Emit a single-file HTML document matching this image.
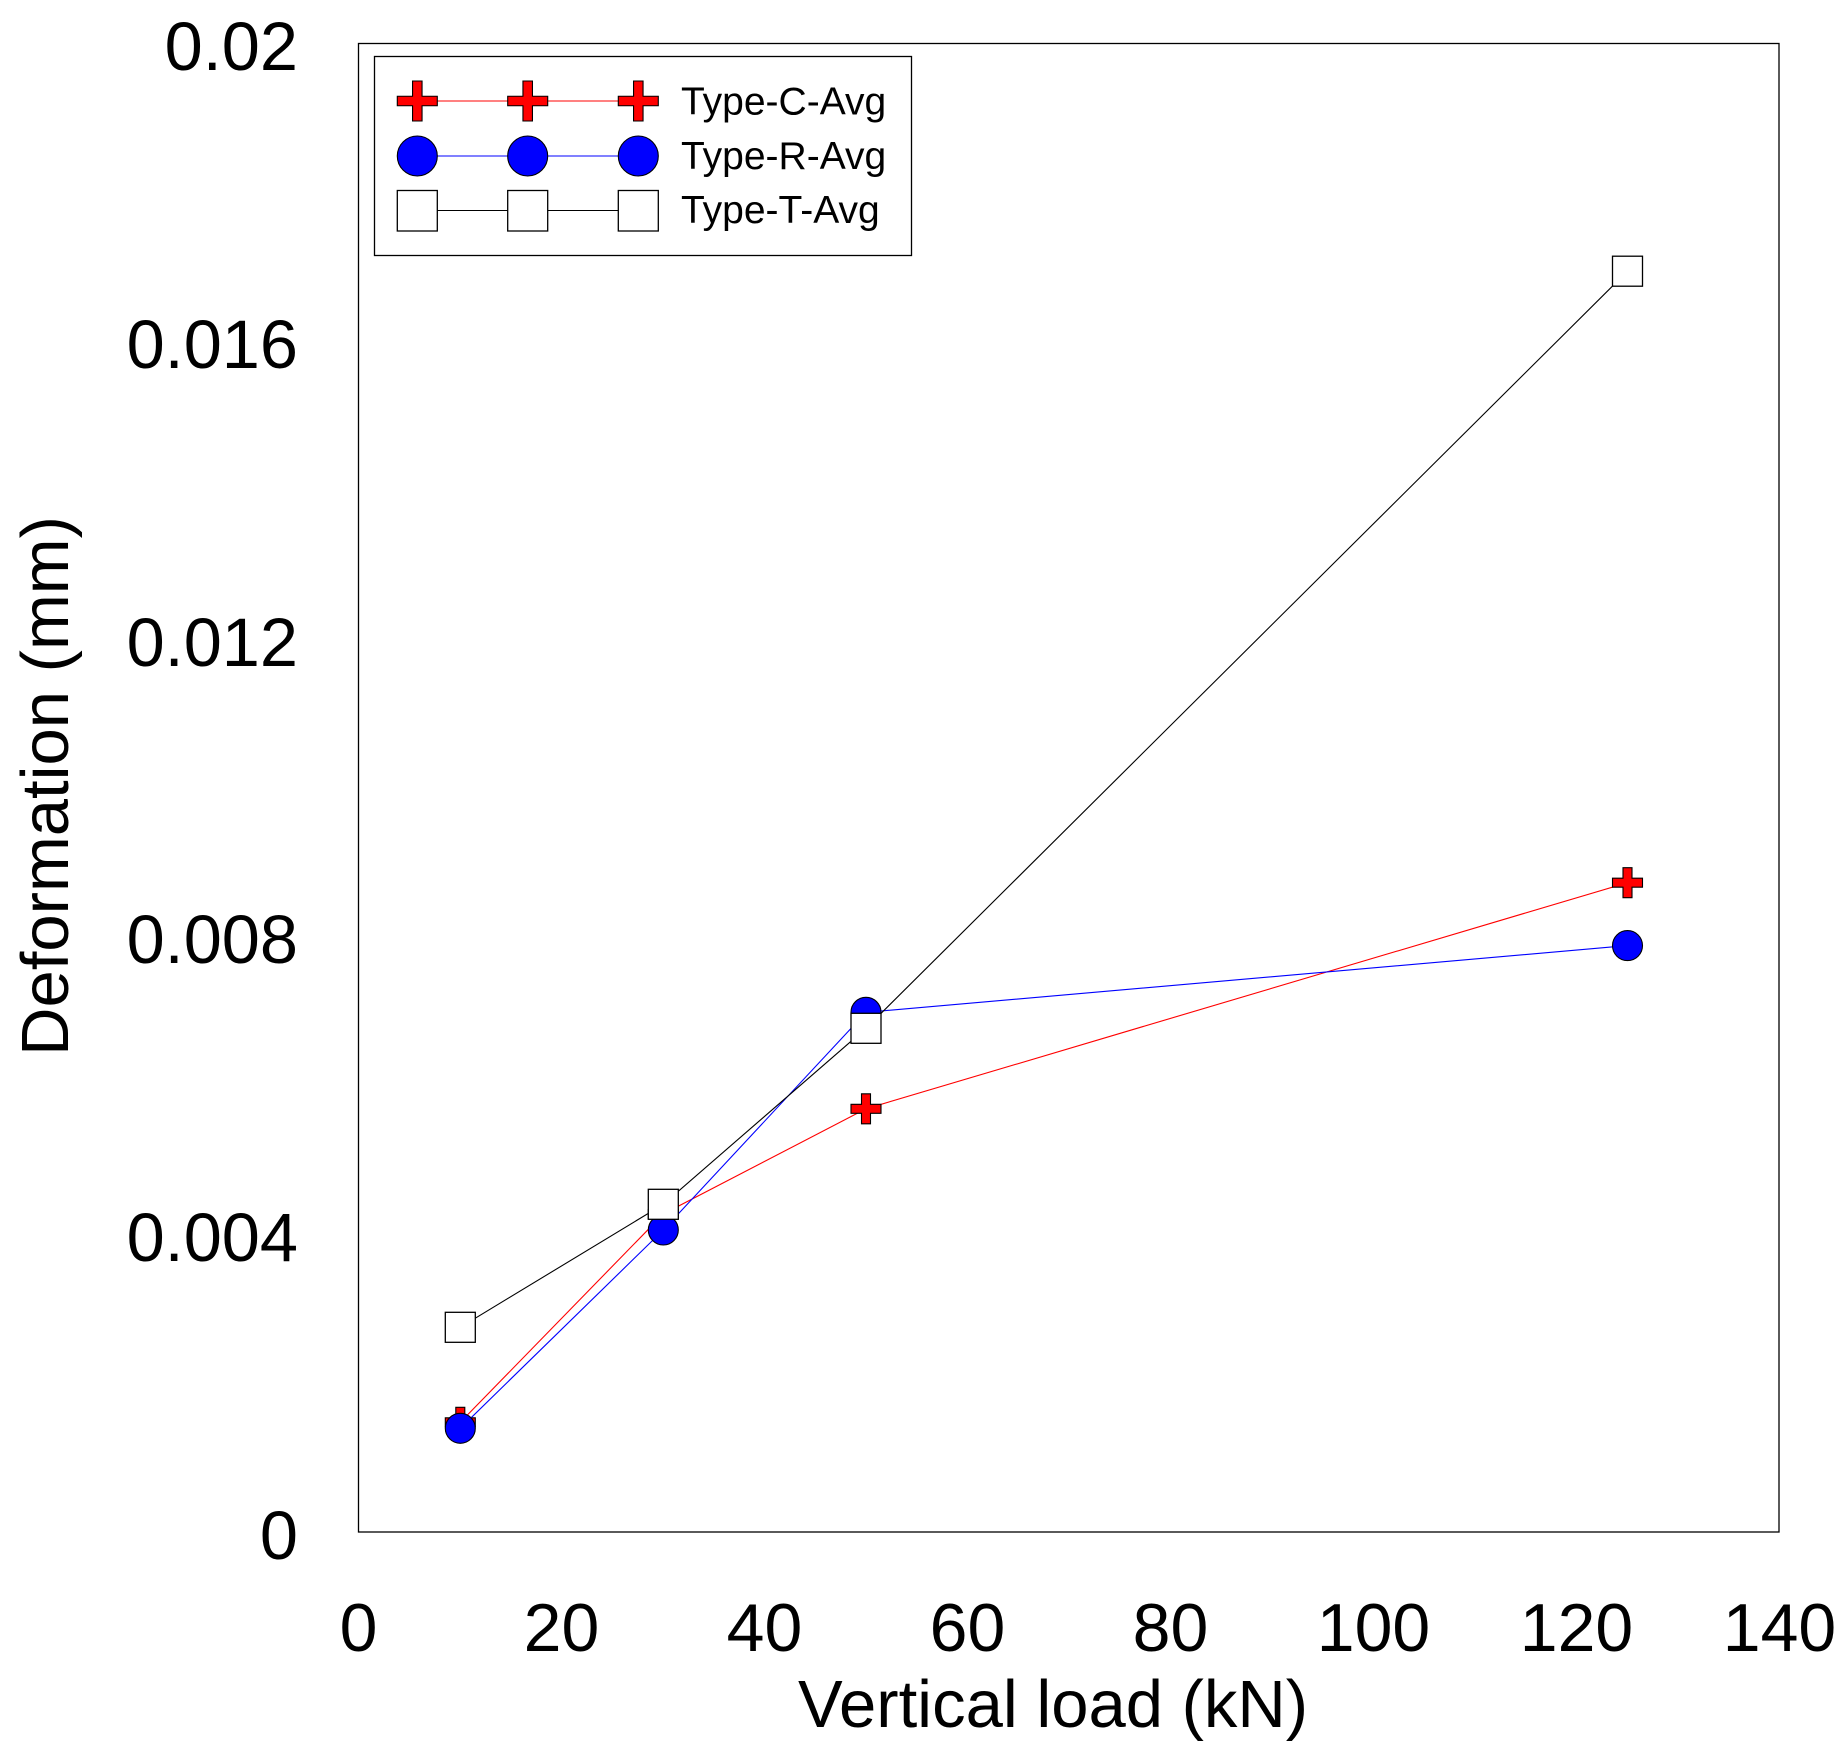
<!DOCTYPE html>
<html>
<head>
<meta charset="utf-8">
<style>
  html, body { margin: 0; padding: 0; background: #fff; }
  svg { display: block; }
  text { font-family: "Liberation Sans", Arial, sans-serif; fill: #000; }
</style>
</head>
<body>
<svg width="1844" height="1754" viewBox="0 0 1844 1754" xmlns="http://www.w3.org/2000/svg">
  <rect x="0" y="0" width="1844" height="1754" fill="#fff"/>

  <!-- plot frame -->
  <rect x="358.5" y="43.5" width="1420.5" height="1488.5" fill="none" stroke="#000" stroke-width="1.3"/>

  <!-- Y tick labels -->
  <g font-size="68.5" text-anchor="end">
    <text x="298" y="70">0.02</text>
    <text x="298" y="368">0.016</text>
    <text x="298" y="666">0.012</text>
    <text x="298" y="963">0.008</text>
    <text x="298" y="1261">0.004</text>
    <text x="298" y="1559">0</text>
  </g>

  <!-- X tick labels -->
  <g font-size="68" text-anchor="middle">
    <text x="358.5" y="1651">0</text>
    <text x="561.5" y="1651">20</text>
    <text x="764.5" y="1651">40</text>
    <text x="967.5" y="1651">60</text>
    <text x="1170.5" y="1651">80</text>
    <text x="1373.5" y="1651">100</text>
    <text x="1576.5" y="1651">120</text>
    <text x="1779.5" y="1651">140</text>
  </g>

  <!-- Axis titles -->
  <text x="798" y="1727" font-size="67">Vertical load (kN)</text>
  <text transform="translate(68,786) rotate(-90)" font-size="67" text-anchor="middle">Deformation (mm)</text>

  <!-- Series C (red crosses) -->
  <polyline points="460.3,1422.3 663.3,1214 866,1108.8 1627.5,882.7" fill="none" stroke="#ff0000" stroke-width="1.1"/>
  <g fill="#ff0000" stroke="#000" stroke-width="1.1">
    <path transform="translate(460.3,1422.3)" d="M-4.5,-15 H4.5 V-4.5 H15 V4.5 H4.5 V15 H-4.5 V4.5 H-15 V-4.5 H-4.5 Z"/>
    <path transform="translate(663.3,1214)" d="M-4.5,-15 H4.5 V-4.5 H15 V4.5 H4.5 V15 H-4.5 V4.5 H-15 V-4.5 H-4.5 Z"/>
    <path transform="translate(866,1108.8)" d="M-4.5,-15 H4.5 V-4.5 H15 V4.5 H4.5 V15 H-4.5 V4.5 H-15 V-4.5 H-4.5 Z"/>
    <path transform="translate(1627.5,882.7)" d="M-4.5,-15 H4.5 V-4.5 H15 V4.5 H4.5 V15 H-4.5 V4.5 H-15 V-4.5 H-4.5 Z"/>
  </g>

  <!-- Series R (blue circles) -->
  <polyline points="460.3,1428.3 663.3,1230 866,1012.3 1627.5,945.6" fill="none" stroke="#0000ff" stroke-width="1.1"/>
  <g fill="#0000ff" stroke="#000" stroke-width="1.1">
    <circle cx="460.3" cy="1428.3" r="15"/>
    <circle cx="663.3" cy="1230" r="15"/>
    <circle cx="866" cy="1012.3" r="15"/>
    <circle cx="1627.5" cy="945.6" r="15"/>
  </g>

  <!-- Series T (white squares) -->
  <polyline points="460.3,1327.3 663.3,1204.3 866,1028.3 1627.5,271.2" fill="none" stroke="#000" stroke-width="1.1"/>
  <g fill="#fff" stroke="#000" stroke-width="1.3">
    <rect x="445.3" y="1312.3" width="30" height="30"/>
    <rect x="648.3" y="1189.3" width="30" height="30"/>
    <rect x="851" y="1013.3" width="30" height="30"/>
    <rect x="1612.5" y="256.2" width="30" height="30"/>
  </g>

  <!-- Legend -->
  <rect x="374.5" y="56.5" width="537" height="199" fill="#fff" stroke="#000" stroke-width="1.3"/>
  <line x1="417.3" y1="101" x2="638.3" y2="101" stroke="#ff0000" stroke-width="1.1"/>
  <line x1="417.3" y1="156" x2="638.3" y2="156" stroke="#0000ff" stroke-width="1.1"/>
  <line x1="417.3" y1="210.5" x2="638.3" y2="210.5" stroke="#000" stroke-width="1.1"/>
  <g fill="#ff0000" stroke="#000" stroke-width="1.1">
    <path transform="translate(417.3,101)" d="M-4.75,-20 H4.75 V-4.75 H20 V4.75 H4.75 V20 H-4.75 V4.75 H-20 V-4.75 H-4.75 Z"/>
    <path transform="translate(527.7,101)" d="M-4.75,-20 H4.75 V-4.75 H20 V4.75 H4.75 V20 H-4.75 V4.75 H-20 V-4.75 H-4.75 Z"/>
    <path transform="translate(638.3,101)" d="M-4.75,-20 H4.75 V-4.75 H20 V4.75 H4.75 V20 H-4.75 V4.75 H-20 V-4.75 H-4.75 Z"/>
  </g>
  <g fill="#0000ff" stroke="#000" stroke-width="1.1">
    <circle cx="417.3" cy="156" r="20"/>
    <circle cx="527.7" cy="156" r="20"/>
    <circle cx="638.3" cy="156" r="20"/>
  </g>
  <g fill="#fff" stroke="#000" stroke-width="1.3">
    <rect x="397.3" y="190.5" width="40" height="40.5"/>
    <rect x="507.7" y="190.5" width="40" height="40.5"/>
    <rect x="618.3" y="190.5" width="40" height="40.5"/>
  </g>
  <g font-size="39">
    <text x="681" y="114.5">Type-C-Avg</text>
    <text x="681" y="169">Type-R-Avg</text>
    <text x="681" y="223.2">Type-T-Avg</text>
  </g>
</svg>
</body>
</html>
